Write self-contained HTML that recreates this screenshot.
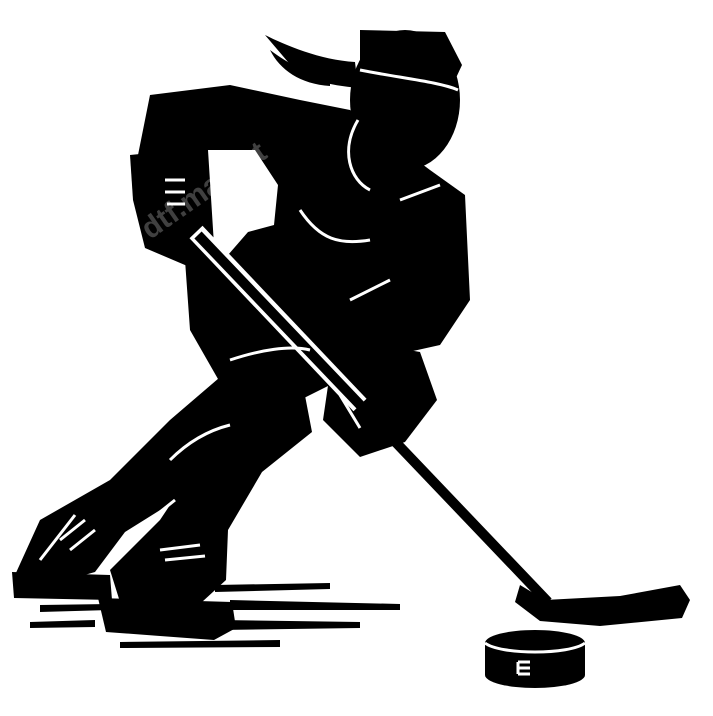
<!DOCTYPE html>
<html><head><meta charset="utf-8"><style>html,body{margin:0;padding:0;background:#fff}svg{display:block}</style></head>
<body>
<svg width="713" height="716" viewBox="0 0 713 716" xmlns="http://www.w3.org/2000/svg">
<g fill="#000">
<path d="M265,35 C285,45 320,60 355,62 L358,88 C330,85 300,80 288,62 Z"/>
<path d="M270,50 C290,65 310,75 330,78 L330,86 C300,84 280,70 270,50 Z"/>
<ellipse cx="405" cy="100" rx="55" ry="70"/>
<path d="M360,30 L445,32 L462,65 L455,80 L360,70 Z"/>
<path d="M150,95 L230,85 L300,100 L350,110 L430,170 L465,195 L470,300 L440,345 L395,355 L370,380 L330,385 L300,400 L230,400 L190,330 L185,260 L150,230 L135,170 Z"/>
<path d="M130,155 L200,148 L218,240 L192,268 L145,248 L133,200 Z"/>
<path d="M330,372 L380,345 L420,352 L437,400 L405,442 L360,457 L323,420 Z"/>
<path d="M240,360 L300,395 L262,442 L205,482 L125,532 L95,572 L32,590 L15,575 L40,520 L110,480 L170,420 Z"/>
<path d="M12,572 L110,575 L112,600 L14,598 Z"/>
<path d="M228,378 L302,380 L312,432 L262,472 L228,530 L226,580 L202,602 L120,602 L110,570 L160,520 L200,460 Z"/>
<path d="M98,598 L232,602 L236,628 L214,640 L106,632 Z"/>
<path d="M40,605 L110,604 L110,610 L40,612 Z"/>
<path d="M215,585 L330,583 L330,589 L215,592 Z"/>
<path d="M230,600 L400,604 L400,610 L230,610 Z"/>
<path d="M220,620 L360,622 L360,628 L220,630 Z"/>
<path d="M120,642 L280,640 L280,647 L120,648 Z"/>
<path d="M30,622 L95,620 L95,627 L30,628 Z"/>
</g>
<!-- white gap between glove and torso -->
<path d="M208,150 L255,150 L278,185 L274,225 L248,232 L228,255 L214,245 Z" fill="#fff"/>
<!-- stick with white outline through body -->
<line x1="196" y1="232" x2="360" y2="405" stroke="#fff" stroke-width="18"/>
<line x1="198" y1="235" x2="548" y2="602" stroke="#000" stroke-width="10"/>
<g fill="#000">
<path d="M520,585 L545,600 L620,596 L680,585 L690,600 L682,618 L600,626 L540,621 L515,602 Z"/>
<rect x="485" y="643" width="100" height="32"/>
<ellipse cx="535" cy="675" rx="50" ry="13"/>
<ellipse cx="535" cy="643" rx="50" ry="13"/>
</g>
<g stroke="#fff" stroke-width="3" fill="none">
<path d="M360,70 C400,78 440,82 458,90"/>
<path d="M165,180 L185,180 M165,192 L185,192 M167,204 L185,204"/>
<path d="M340,395 L360,428"/>
<path d="M40,560 L75,515"/>
<path d="M485,643 C500,655 570,655 585,643"/>
<path d="M518,662 L530,662 M518,668 L530,668 M518,674 L530,674 M518,662 L518,674"/>
<path d="M300,210 C320,240 340,245 370,240"/>
<path d="M358,120 C340,150 350,180 370,190"/>
<path d="M400,200 L440,185"/>
<path d="M350,300 L390,280"/>
<path d="M230,360 C260,350 290,345 310,350"/>
<path d="M170,460 C190,440 210,430 230,425"/>
<path d="M150,520 L175,500"/>
<path d="M60,540 L85,520 M70,550 L95,530"/>
<path d="M160,550 L200,545 M165,560 L205,556"/>
</g>
<text x="150" y="240" transform="rotate(-35 150 240)" font-family="Liberation Sans, sans-serif" font-size="30" font-weight="bold" fill="#fff" fill-opacity="0.25">dtf.market</text>
</svg>
</body></html>
